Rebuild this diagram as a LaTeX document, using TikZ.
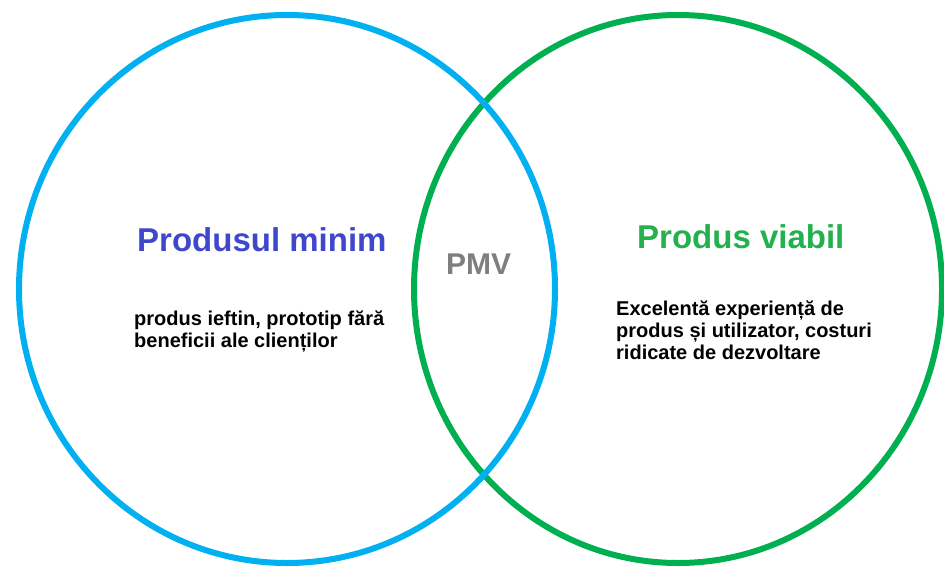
\documentclass[tikz,border=0pt]{standalone}
\usepackage{fontspec}
\setmainfont{Liberation Sans}
\definecolor{cblue}{RGB}{0,176,240}
\definecolor{cgreen}{RGB}{0,176,80}
\definecolor{tindigo}{RGB}{63,72,204}
\definecolor{tgreen}{RGB}{34,177,76}
\definecolor{tgray}{RGB}{127,127,127}
\begin{document}
\begin{tikzpicture}[x=1pt,y=-1pt,
  ring/.style={line width=6pt},
  title/.style={anchor=base west,inner sep=0pt,font=\bfseries\fontsize{33}{38}\selectfont},
  body/.style={anchor=base west,inner sep=0pt,font=\bfseries\fontsize{20}{22}\selectfont}]
\useasboundingbox (0,0) rectangle (944,567);
\begin{scope}
\clip (0,0) rectangle (944,567);
\draw[ring,cgreen] (678,289) ellipse [x radius=264,y radius=274];
\draw[ring,cblue] (287,289) ellipse [x radius=268,y radius=274];
\end{scope}
\node[title,text=tindigo] (t1) at (137,251) {Produsul minim};
\node[title,text=tgreen] (t2) at (637,248) {Produs viabil};
\node[title,text=tgray,font=\bfseries\fontsize{30}{36}\selectfont] (pmv) at (446,274) {PMV};
\node[body] (b1) at (134,325) {\begin{tabular}[t]{@{}l@{}}produs ieftin, prototip fără\\beneficii ale clienților\end{tabular}};
\node[body] (b2) at (616,315) {\begin{tabular}[t]{@{}l@{}}Excelentă experiență de\\produs și utilizator, costuri\\ridicate de dezvoltare\end{tabular}};
\end{tikzpicture}
\end{document}
